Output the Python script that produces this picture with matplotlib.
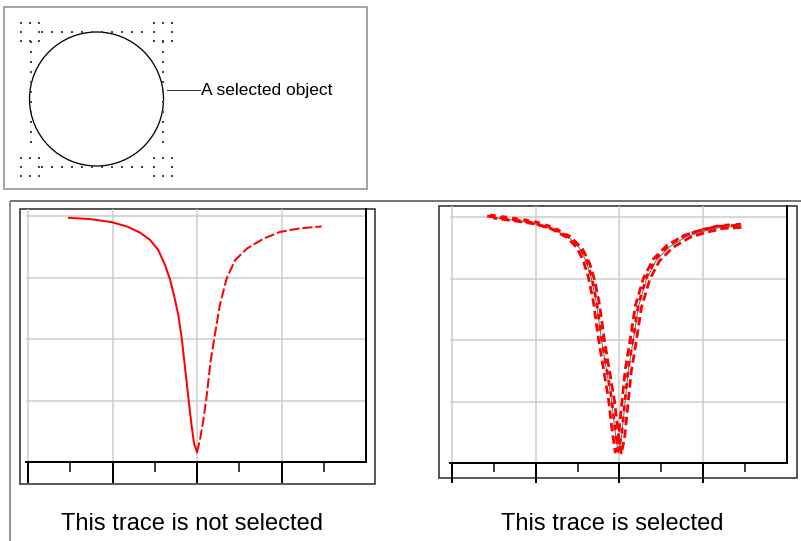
import matplotlib
matplotlib.use("Agg")
import matplotlib.pyplot as plt
import matplotlib.patches as mpatches
import matplotlib.transforms as mtransforms
import numpy as np

W, H = 801, 541
PX = 0.72  # one pixel in points at dpi 100

# trace, in grid units (x: 0..8, y: 0..4)
x_unsel = np.array([0.97, 1.47, 1.98, 2.34, 2.65, 2.89, 3.08, 3.24, 3.36, 3.46, 3.56, 3.64,
                    3.72, 3.80, 3.87, 3.93, 4.0,
                    4.07, 4.15, 4.23, 4.32, 4.42, 4.54, 4.70, 4.90, 5.18, 5.57, 5.96, 6.44, 6.95])
y_unsel = np.array([3.97, 3.95, 3.90, 3.83, 3.73, 3.61, 3.45, 3.21, 2.97, 2.70, 2.38, 2.0,
                    1.51, 1.02, 0.60, 0.30, 0.16,
                    0.36, 0.68, 1.08, 1.63, 2.06, 2.55, 2.98, 3.28, 3.47, 3.63, 3.74, 3.80, 3.83])

x_sel = np.array([0.91, 1.46, 1.94, 2.42, 2.82, 3.05, 3.21, 3.33, 3.45, 3.57, 3.69, 3.81,
                  3.89, 3.97,
                  4.05, 4.13, 4.21, 4.33, 4.45, 4.65, 4.88, 5.20, 5.6, 5.96, 6.4, 6.91])
y_sel = np.array([4.0, 3.95, 3.90, 3.80, 3.65, 3.49, 3.27, 3.0, 2.6, 2.0, 1.51, 1.02,
                  0.54, 0.16,
                  0.43, 0.97, 1.51, 2.0, 2.54, 3.0, 3.30, 3.52, 3.68, 3.76, 3.83, 3.85])

major_ticks = [0, 2, 4, 6]
minor_ticks = [1, 3, 5, 7]
grid_y = [1, 2, 3, 4]

captions = ["This trace is not selected", "This trace is selected"]
callout = "A selected object"

plt.rcParams['font.family'] = ['Liberation Sans', 'DejaVu Sans']

fig = plt.figure(figsize=(W / 100, H / 100), dpi=100)
bg = fig.add_axes([0, 0, 1, 1])
bg.set_xlim(0, W)
bg.set_ylim(H, 0)
bg.axis('off')


def px_axes(x0, y0, x1, y1):
    return fig.add_axes([x0 / W, 1 - y1 / H, (x1 - x0) / W, (y1 - y0) / H])


def setup_chart(ax, ytop, major_len, minor_len):
    ax.set_facecolor('none')
    ax.set_xlim(-0.05, 8)
    ax.set_ylim(0, ytop)
    for s in ('left', 'top'):
        ax.spines[s].set_visible(False)
    ax.spines['bottom'].set_linewidth(2 * PX)
    ax.spines['right'].set_linewidth(2 * PX)
    ax.set_xticks(major_ticks)
    ax.set_xticks(minor_ticks, minor=True)
    ax.set_yticks(grid_y)
    ax.tick_params(axis='x', which='major', length=major_len * PX, width=2 * PX,
                   labelbottom=False, direction='out')
    ax.tick_params(axis='x', which='minor', length=minor_len * PX, width=1.5 * PX)
    ax.tick_params(axis='y', length=0, labelleft=False)
    ax.grid(True, which='major', color='#cccccc', lw=1.5 * PX)
    ax.set_axisbelow(True)


# --- top illustration: a selected object ---
bg.add_patch(mpatches.Rectangle((3.5, 6.5), 363, 182, fill=False, ec='#888888', lw=1.5 * PX))
bg.add_patch(mpatches.Circle((96.5, 99), 67, fill=False, ec='black', lw=1.3 * PX))

# dotted selection box and corner handles
dots = []
for hx, hy in [(21, 23), (154, 23), (21, 158), (154, 158)]:
    for i in range(3):
        for j in range(3):
            if i == 1 and j == 1:
                continue
            dots.append((hx + 9 * i, hy + 9 * j))
for v in np.arange(42, 152, 10):
    dots += [(v, 32), (v, 167), (31, v), (163, v)]
dots = np.array(dots)
bg.scatter(dots[:, 0], dots[:, 1], s=1.3, marker='s', color='#444444', lw=0)

bg.plot([167, 200], [90, 90], color='#333333', lw=1 * PX)
bg.text(201, 91, callout, ha='left', va='center', fontsize=12.5, color='black')

# separators
bg.plot([10, W], [201, 201], color='#555555', lw=1.6 * PX, solid_capstyle='butt')
bg.plot([10, 10], [201, H], color='#777777', lw=1.6 * PX, solid_capstyle='butt')

# chart frames
bg.add_patch(mpatches.Rectangle((19.5, 208.5), 355, 275, fill=False, ec='#333333', lw=1.6 * PX))
bg.add_patch(mpatches.Rectangle((439, 206), 358, 272, fill=False, ec='#333333', lw=1.6 * PX))

# --- left chart: unselected trace ---
axL = px_axes(25.9, 209, 366, 462)
setup_chart(axL, (462 - 209) / 61.5, 21, 10)
imin = int(np.argmin(y_unsel))
axL.plot(x_unsel[:imin + 1], y_unsel[:imin + 1], color='red', lw=2 * PX, zorder=3)
axL.plot(x_unsel[imin:], y_unsel[imin:], color='red', lw=2 * PX, ls=(0, (5, 1.5)), zorder=3)

# --- right chart: selected trace (several offset dashed copies) ---
axR = px_axes(449.9, 206, 787, 463)
setup_chart(axR, (463 - 206) / 61.5, 20, 9)
axR.plot(x_sel, y_sel, color='#2f7f7f', lw=1 * PX, zorder=3)
for dx, dy, dash in [(-3, 1, (0, (3, 1.5))), (3, -1, (1.5, (3, 1.5))), (0, 2, (0, (2, 2)))]:
    tr = mtransforms.offset_copy(axR.transData, fig=fig, x=dx * PX, y=dy * PX, units='points')
    axR.plot(x_sel, y_sel, color='red', lw=2.8 * PX, ls=dash, transform=tr, zorder=4)

bg.text(192, 524, captions[0], ha='center', va='center', fontsize=17, color='black')
bg.text(612, 524, captions[1], ha='center', va='center', fontsize=17, color='black')

fig.savefig('out.png', dpi=100)
